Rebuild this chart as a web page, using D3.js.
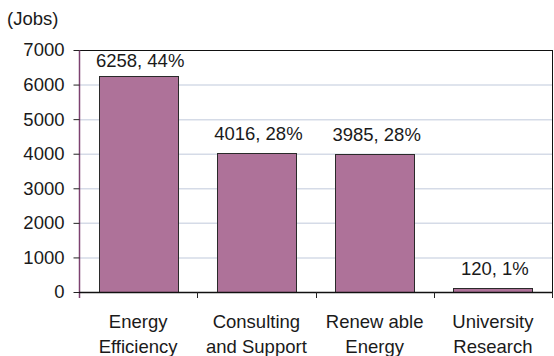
<!DOCTYPE html>
<html><head><meta charset="utf-8">
<script src="https://cdn.jsdelivr.net/npm/d3@7"></script>
<style>body{margin:0;background:#fff}svg{display:block}text{font-family:"Liberation Sans",Arial,sans-serif;fill:#1a1a1a}</style>
</head><body>
<script>
const categories = [["Energy","Efficiency"],["Consulting","and Support"],["Renew able","Energy"],["University","Research"]];
const values = [6258, 4016, 3985, 120];
const percents = ["44%","28%","28%","1%"];
const yTicks = [0,1000,2000,3000,4000,5000,6000,7000];
const yUnit = "(Jobs)";

const W = 554, H = 356;
const m = {left:79, right:552, top:50, bottom:292};
const svg = d3.select("body").append("svg").attr("width",W).attr("height",H);

const keys = categories.map(c => c.join(" "));
const x = d3.scaleBand().domain(keys).range([m.left, m.right]).paddingInner(1/3).paddingOuter(1/6);
const y = d3.scaleLinear().domain([0,7000]).range([m.bottom, m.top]);
const fs = 18.5;

// gridlines
svg.append("g").selectAll("line").data(yTicks.filter(t=>t>0&&t<7000)).join("line")
  .attr("x1",m.left).attr("x2",m.right).attr("y1",d=>y(d)+0.5).attr("y2",d=>y(d)+0.5)
  .attr("stroke","#d5dbe7").attr("stroke-width",1.5);

// plot border top/right
svg.append("line").attr("x1",m.left).attr("x2",m.right+0.5).attr("y1",m.top+0.5).attr("y2",m.top+0.5).attr("stroke","#111");
svg.append("line").attr("x1",m.right+0.5).attr("x2",m.right+0.5).attr("y1",m.top).attr("y2",m.bottom).attr("stroke","#111");

// bars
svg.append("g").selectAll("rect").data(values).join("rect")
  .attr("x",(d,i)=>Math.round(x(keys[i]))+0.5)
  .attr("y",d=>Math.round(y(d))+0.5)
  .attr("width",Math.round(x.bandwidth()))
  .attr("height",d=>Math.round(y(0))-Math.round(y(d)))
  .attr("fill","#ae7299").attr("stroke","#2a2a2a").attr("stroke-width",1);

// y axis
const yAxis = d3.axisLeft(y).tickValues(yTicks).tickSize(6).tickPadding(9).tickFormat(d3.format("d"));
const ga = svg.append("g").attr("transform",`translate(${m.left+0.5},0)`).call(yAxis);
ga.select(".domain").attr("stroke","#7d4270").attr("stroke-width",1.5).attr("d",`M0,${m.top}V${m.bottom+6}`);
ga.selectAll(".tick line").attr("stroke","#222");
ga.selectAll(".tick text").attr("font-size",fs).attr("font-family","Liberation Sans, Arial, sans-serif").attr("fill","#1a1a1a");

// x axis line & ticks
svg.append("line").attr("x1",m.left).attr("x2",m.right+1).attr("y1",m.bottom+0.5).attr("y2",m.bottom+0.5).attr("stroke","#111").attr("stroke-width",1.5);
const step = x.step();
svg.append("g").selectAll("line").data(d3.range(1,keys.length+1)).join("line")
  .attr("x1",i=>Math.round(m.left+i*step)+0.5).attr("x2",i=>Math.round(m.left+i*step)+0.5)
  .attr("y1",m.bottom).attr("y2",m.bottom+6).attr("stroke","#222");

// category labels
const cl = svg.append("g").selectAll("text").data(categories).join("text")
  .attr("text-anchor","middle").attr("font-size",fs)
  .attr("x",(d,i)=>x(keys[i])+x.bandwidth()/2);
cl.selectAll("tspan").data(d=>d).join("tspan")
  .attr("x",function(){return this.parentNode.getAttribute("x");})
  .attr("y",(d,j)=>328+j*25).text(d=>d);

// data labels
svg.append("g").selectAll("text").data(values).join("text")
  .attr("text-anchor","middle").attr("font-size",fs)
  .attr("x",(d,i)=>x(keys[i])+x.bandwidth()/2+2)
  .attr("y",d=>Math.max(y(d)-13, m.top+17))
  .text((d,i)=>`${d}, ${percents[i]}`);

// unit
svg.append("text").attr("x",7).attr("y",25).attr("font-size",fs).text(yUnit);
</script>
</body></html>
